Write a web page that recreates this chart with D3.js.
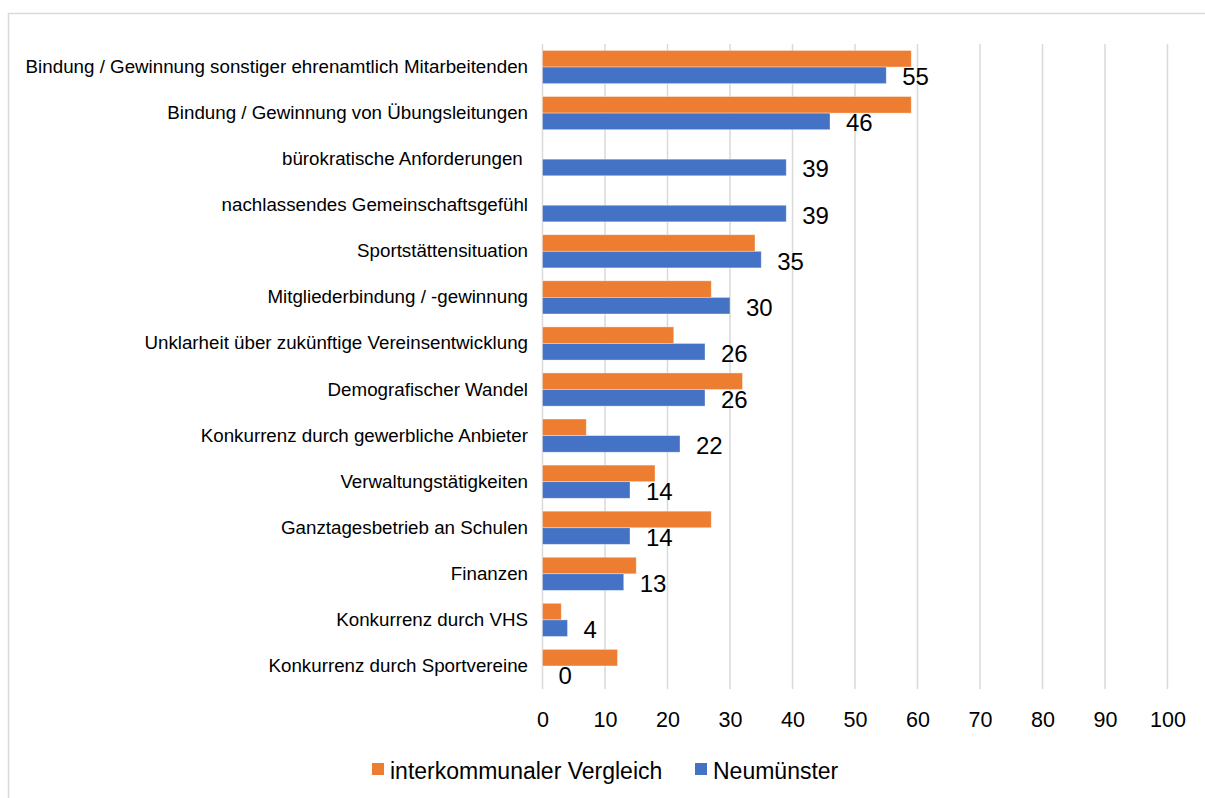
<!DOCTYPE html>
<html>
<head>
<meta charset="utf-8">
<script src="https://cdn.jsdelivr.net/npm/d3@7"></script>
<style>
  html, body { margin: 0; padding: 0; background: #fff; }
  svg { display: block; font-family: "Liberation Sans", Arial, sans-serif; }
</style>
</head>
<body>
<svg id="chart" width="1205" height="798"></svg>
<script>
// Herausforderungen der Sportvereine (Angaben in Prozent)
const categories = [
  "Bindung / Gewinnung sonstiger ehrenamtlich Mitarbeitenden",
  "Bindung / Gewinnung von Übungsleitungen",
  "bürokratische Anforderungen ",
  "nachlassendes Gemeinschaftsgefühl",
  "Sportstättensituation",
  "Mitgliederbindung / -gewinnung",
  "Unklarheit über zukünftige Vereinsentwicklung",
  "Demografischer Wandel",
  "Konkurrenz durch gewerbliche Anbieter",
  "Verwaltungstätigkeiten",
  "Ganztagesbetrieb an Schulen",
  "Finanzen",
  "Konkurrenz durch VHS",
  "Konkurrenz durch Sportvereine"
];
const interkommunal = [59, 59, null, null, 34, 27, 21, 32, 7, 18, 27, 15, 3, 12];
const neumuenster   = [55, 46, 39, 39, 35, 30, 26, 26, 22, 14, 14, 13, 4, 0];
const seriesNames = ["interkommunaler Vergleich", "Neumünster"];
const xTicks = [0, 10, 20, 30, 40, 50, 60, 70, 80, 90, 100];

const colors = { "interkommunaler Vergleich": "#ED7D31", "Neumünster": "#4472C4" };

const rows = categories.map((c, i) => ({
  cat: c,
  values: [
    { key: seriesNames[0], v: interkommunal[i] },
    { key: seriesNames[1], v: neumuenster[i] }
  ]
}));

const svg = d3.select("#chart");

// outer chart frame
svg.append("rect")
  .attr("x", 8.5).attr("y", 13.5)
  .attr("width", 1205).attr("height", 800)
  .attr("fill", "none").attr("stroke", "#d9d9d9").attr("stroke-width", 1.5);

const x = d3.scaleLinear().domain([0, 100]).range([542.5, 1167.5]);
const y = d3.scaleBand().domain(categories).range([44, 689])
  .paddingInner(0.28).paddingOuter(0.14);
const ySub = d3.scaleBand().domain(seriesNames).range([0, y.bandwidth()]);

// vertical gridlines
svg.append("g")
  .selectAll("line")
  .data(xTicks)
  .join("line")
  .attr("x1", d => x(d)).attr("x2", d => x(d))
  .attr("y1", 44).attr("y2", 689)
  .attr("stroke", "#d9d9d9").attr("stroke-width", 1.5);

// x axis labels
const xAxis = d3.axisBottom(x).tickValues(xTicks).tickSize(0).tickPadding(0);
const gx = svg.append("g").attr("transform", "translate(0,712)").call(xAxis);
gx.select(".domain").remove();
gx.selectAll("text")
  .attr("font-size", 21.5).attr("fill", "#000")
  .attr("font-family", "Liberation Sans, Arial, sans-serif");

// category labels
const yAxis = d3.axisLeft(y).tickSize(0).tickPadding(0);
const gy = svg.append("g").attr("transform", "translate(528,0)").call(yAxis);
gy.select(".domain").remove();
gy.selectAll("text")
  .attr("font-size", 18.75).attr("fill", "#000")
  .attr("font-family", "Liberation Sans, Arial, sans-serif")
  .style("white-space", "pre");

// bars
const groups = svg.append("g")
  .selectAll("g")
  .data(rows)
  .join("g")
  .attr("transform", d => `translate(0,${y(d.cat)})`);

groups.selectAll("rect")
  .data(d => d.values.filter(v => v.v !== null && v.v > 0))
  .join("rect")
  .attr("x", x(0))
  .attr("y", d => ySub(d.key))
  .attr("width", d => x(d.v) - x(0))
  .attr("height", ySub.bandwidth())
  .attr("fill", d => colors[d.key])
  .attr("stroke", "#fff").attr("stroke-opacity", 0.45).attr("stroke-width", 0.8);

// value labels for Neumünster
groups.append("text")
  .attr("x", d => x(d.values[1].v) + 16)
  .attr("y", ySub("Neumünster") + ySub.bandwidth() / 2 + 10)
  .attr("font-size", 24).attr("fill", "#000")
  .text(d => d.values[1].v);

// legend
const legend = svg.append("g").attr("transform", "translate(372,763)");
const legendItems = [
  { key: seriesNames[0], dx: 0 },
  { key: seriesNames[1], dx: 323 }
];
const li = legend.selectAll("g").data(legendItems).join("g")
  .attr("transform", d => `translate(${d.dx},0)`);
li.append("rect").attr("width", 12).attr("height", 12)
  .attr("fill", d => colors[d.key]);
li.append("text").attr("x", 18).attr("y", 16)
  .attr("font-size", 23).attr("fill", "#000")
  .text(d => d.key);
</script>
</body>
</html>
